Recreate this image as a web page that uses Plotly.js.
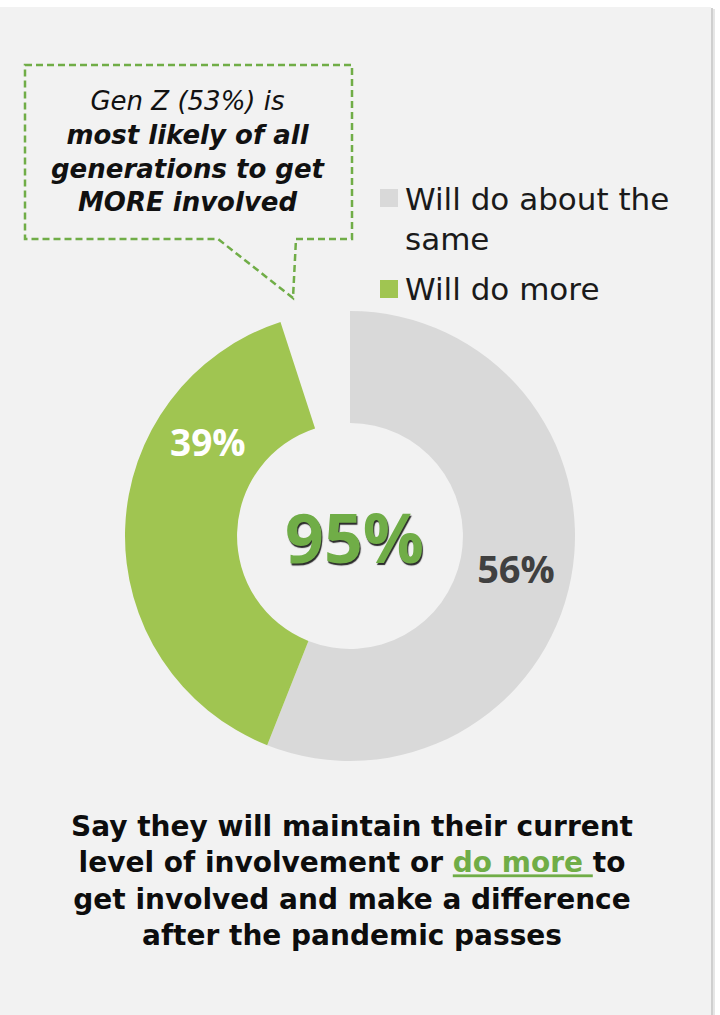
<!DOCTYPE html>
<html>
<head>
<meta charset="utf-8">
<script src="https://cdn.plot.ly/plotly-3.0.1.min.js"></script>
<style>html,body{margin:0;padding:0;background:#fff;}#chart{width:720px;height:1015px;}</style>
</head>
<body>
<div id="chart"></div>
<script>
// ---- data ----
const categories = ['Will do about the<br>same', 'Will do more', ' '];
const values = [56, 39, 5];
const sliceColors = ['#d9d9d9', '#a0c551', 'rgba(0,0,0,0)'];
const calloutLines = ['<span style="font-weight:normal"><i>Gen Z (53%) is</i></span>', '<i>most likely of all</i>', '<i>generations to get</i>', '<i>MORE involved</i>'];
const captionLines = ['Say they will maintain their current', 'level of involvement or <span style="color:#70ad47"><u>do more&nbsp;</u></span>to', 'get involved and make a difference', 'after the pandemic passes'];

const W = 720, H = 1015;
const px = v => v / W;
const py = v => 1 - v / H;

const total = values[0] + values[1];

const trace = {
  type: 'pie',
  labels: categories,
  values: values,
  sort: false,
  direction: 'clockwise',
  rotation: 0,
  hole: 0.502,
  marker: {colors: sliceColors, line: {width: 0}},
  text: values.map((v, i) => i === 0 ? v + '%' : ''),
  textinfo: 'text',
  textposition: 'inside',
  insidetextorientation: 'horizontal',
  textfont: {family: 'Open Sans', size: 38, color: '#404040', weight: 700},
  hoverinfo: 'skip',
  showlegend: false,
  domain: {x: [px(125), px(575)], y: [py(761), py(311)]}
};

const calloutPath = (() => {
  const pts = [[25,65],[352,65],[352,239],[296,239],[293,298],[218,239],[25,239]];
  return 'M' + pts.map(p => px(p[0]) + ',' + py(p[1])).join(' L') + ' Z';
})();

// legend (two visible entries) drawn from categories / colours
const legendTop = [189, 280];   // swatch tops (px)
const legendTextY = [219, 289]; // text block centres (px)
const legendShapes = [0, 1].map(i => ({
  type: 'rect', xref: 'paper', yref: 'paper',
  x0: px(380), x1: px(398), y0: py(legendTop[i] + 18), y1: py(legendTop[i]),
  fillcolor: sliceColors[i], line: {width: 0}
}));
const legendAnn = [0, 1].map(i => ({
  xref: 'paper', yref: 'paper', x: px(403), y: py(legendTextY[i]),
  xanchor: 'left', yanchor: 'middle', showarrow: false, align: 'left',
  text: categories[i], font: {family: 'DejaVu Sans', size: 31, color: '#1a1a1a'}
}));

const layout = {
  width: W, height: H,
  margin: {l: 0, r: 0, t: 0, b: 0},
  paper_bgcolor: '#ffffff',
  showlegend: false,
  shapes: [
    {type: 'rect', xref: 'paper', yref: 'paper', x0: px(711), x1: px(715), y0: 0, y1: py(9), fillcolor: '#e6e6e6', line: {width: 0}, layer: 'below'},
    {type: 'rect', xref: 'paper', yref: 'paper', x0: px(711), x1: px(713), y0: 0, y1: py(8), fillcolor: '#cfcfcf', line: {width: 0}, layer: 'below'},
    {type: 'rect', xref: 'paper', yref: 'paper', x0: 0, x1: px(711), y0: 0, y1: py(7), fillcolor: '#f2f2f2', line: {width: 0}, layer: 'below'},
    {type: 'path', xref: 'paper', yref: 'paper', path: calloutPath, line: {color: '#70ad47', width: 2.5, dash: '7px,4px'}, fillcolor: 'rgba(0,0,0,0)'}
  ].concat(legendShapes),
  annotations: [
    {xref: 'paper', yref: 'paper', x: px(188), y: py(152), xanchor: 'center', yanchor: 'middle', showarrow: false,
     text: calloutLines.join('<br>'), align: 'center', font: {family: 'DejaVu Sans', size: 26, color: '#111111', weight: 700}},
    {xref: 'paper', yref: 'paper', x: px(354), y: py(536), xanchor: 'center', yanchor: 'middle', showarrow: false,
     text: total + '%', font: {family: 'Open Sans', size: 68, color: '#70ad47', weight: 700, shadow: '1px 1.5px 1px #2a2a2a'}},
    {xref: 'paper', yref: 'paper', x: px(208), y: py(441), xanchor: 'center', yanchor: 'middle', showarrow: false,
     text: values[1] + '%', font: {family: 'Open Sans', size: 37, color: '#ffffff', weight: 700}},
    {xref: 'paper', yref: 'paper', x: px(352), y: py(881), xanchor: 'center', yanchor: 'middle', showarrow: false,
     text: captionLines.join('<br>'), align: 'center', font: {family: 'DejaVu Sans', size: 28, color: '#0d0d0d', weight: 700}}
  ].concat(legendAnn)
};

Plotly.newPlot('chart', [trace], layout, {displayModeBar: false, staticPlot: true});
</script>
</body>
</html>
